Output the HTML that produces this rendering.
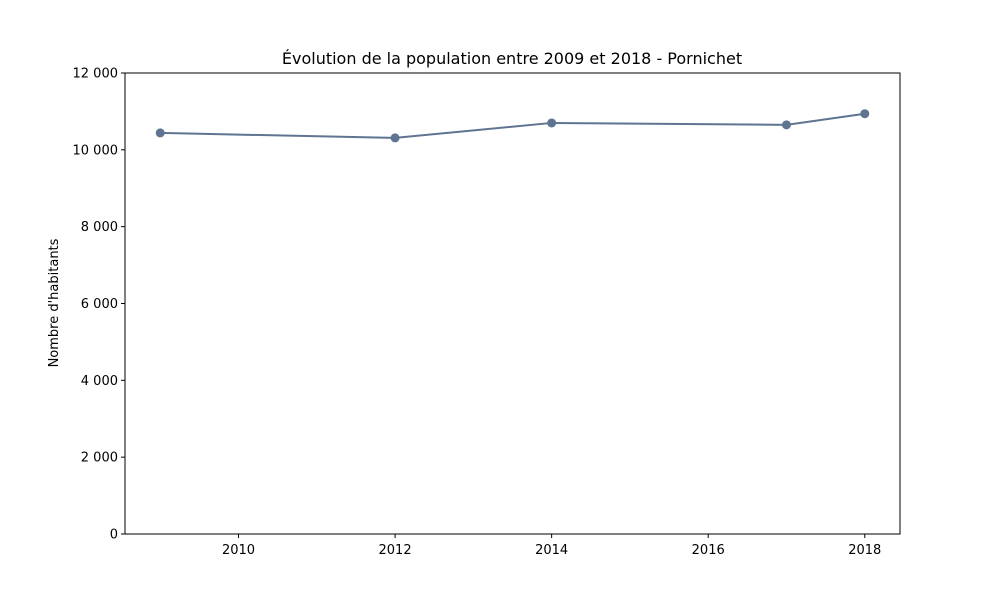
<!DOCTYPE html>
<html><head><meta charset="utf-8"><style>
body{margin:0;background:#fff;font-family:"Liberation Sans","DejaVu Sans",sans-serif;}
svg text{font-family:"DejaVu Sans","Liberation Sans",sans-serif;}
</style></head><body>
<svg id="chart" width="1000" height="600">
<rect width="1000" height="600" fill="#fff"/>
<text x="512" y="64" text-anchor="middle" font-size="16">Évolution de la population entre 2009 et 2018 - Pornichet</text>
<text transform="translate(58,303) rotate(-90)" text-anchor="middle" font-size="13">Nombre d'habitants</text>
<g id="axes"></g>
<g id="marks"></g>
<rect x="125" y="73" width="775" height="461" fill="none" stroke="#000" stroke-width="1"/>
</svg>
<script>
const years = [2009, 2012, 2014, 2017, 2018];
const population = [10440, 10310, 10700, 10650, 10940];
const yTicks = [0, 2000, 4000, 6000, 8000, 10000, 12000];
const yTickLabels = ["0", "2 000", "4 000", "6 000", "8 000", "10 000", "12 000"];
const xTicks = [2010, 2012, 2014, 2016, 2018];
const xTickLabels = ["2010", "2012", "2014", "2016", "2018"];

const L=125,R=900,T=73,B=534;
const xmin=2008.55,xmax=2018.45,ymin=0,ymax=12000;
const xs=v=>L+(v-xmin)/(xmax-xmin)*(R-L);
const ys=v=>B-(v-ymin)/(ymax-ymin)*(B-T);
const NS="http://www.w3.org/2000/svg";
const axes=document.getElementById('axes'), marks=document.getElementById('marks');
function mk(tag,attrs,parent){const e=document.createElementNS(NS,tag);for(const k in attrs)e.setAttribute(k,attrs[k]);parent.appendChild(e);return e;}

yTicks.forEach((v,i)=>{
  const y=ys(v);
  const t=mk('line',{x1:L-4,x2:L,y1:y,y2:y,stroke:'#000'},axes);
  
  
  const tx=mk('text',{x:L-7,y:y+4.5,'text-anchor':'end','font-size':13},axes);
  tx.textContent=yTickLabels[i];
  
  
});
xTicks.forEach((v,i)=>{
  const x=xs(v);
  const t=mk('line',{x1:x,x2:x,y1:B,y2:B+4,stroke:'#000'},axes);
  
  
  const tx=mk('text',{x:x,y:B+20,'text-anchor':'middle','font-size':13},axes);
  tx.textContent=xTickLabels[i];
  
  
});
const pts=years.map((y,i)=>xs(y)+','+ys(population[i])).join(' ');
const line=mk('polyline',{points:pts,fill:'none',stroke:'#5f7490','stroke-width':2},marks);


years.forEach((y,i)=>{
  const c=mk('circle',{cx:xs(y),cy:ys(population[i]),r:4.5,fill:'#5f7490'},marks);
  
  
});
</script>
</body></html>
